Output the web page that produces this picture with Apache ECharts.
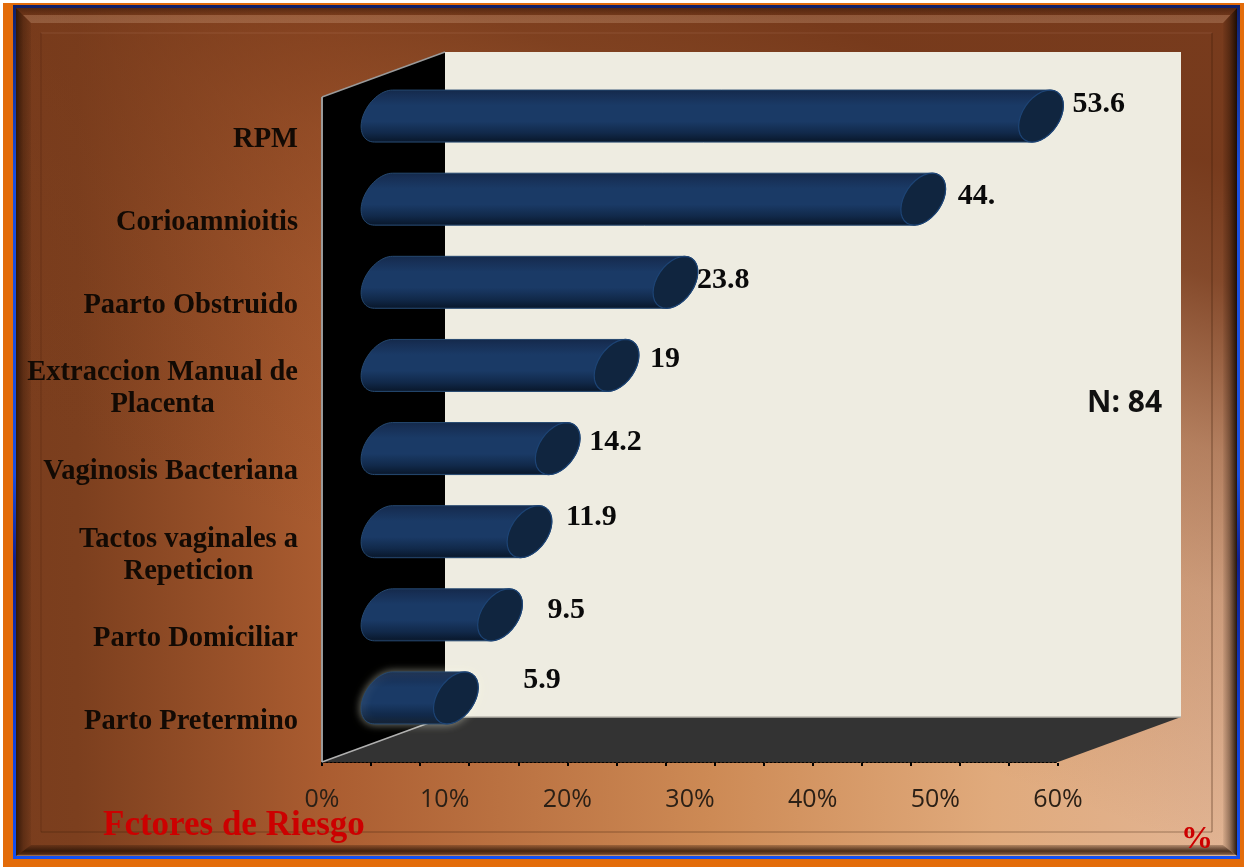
<!DOCTYPE html>
<html>
<head>
<meta charset="utf-8">
<style>
  html, body { margin: 0; padding: 0; background: #fff; }
  #chart-container { width: 1244px; height: 867px; }
</style>
<script src="https://cdn.jsdelivr.net/npm/echarts@6/dist/echarts.min.js"></script>
</head>
<body>
<div id="chart-container"></div>
<script>
// data
const categories = ['RPM', 'Corioamnioitis', 'Paarto Obstruido', 'Extraccion Manual de\nPlacenta',
  'Vaginosis Bacteriana', 'Tactos vaginales a\nRepeticion', 'Parto Domiciliar', 'Parto Pretermino'];
const values = [53.6, 44, 23.8, 19, 14.2, 11.9, 9.5, 5.9];
const valueLabels = ['53.6', '44.', '23.8', '19', '14.2', '11.9', '9.5', '5.9'];

// the value labels were dragged by hand in the original, offsets from the bar's value point
const labelDx = [93, 96, 83, 95, 93, 98, 109, 129];
const labelDy = [-34, -25, -25, -29, -29, -37, -27, -40];

// plot box and 3D depth
const gridLeft = 322, gridTop = 97, gridW = 736, gridH = 665;
const depthX = 123, depthY = -45;
const right = gridLeft + gridW, bottom = gridTop + gridH;

var dom = document.getElementById('chart-container');
var myChart = echarts.init(dom, null, { renderer: 'canvas' });

function grad(x1, y1, x2, y2, stops) {
  return new echarts.graphic.LinearGradient(x1, y1, x2, y2, stops.map(function (s) {
    return { offset: s[0], color: s[1] };
  }));
}
function vGrad(stops) { return grad(0, 0, 0, 1, stops); }
function hGrad(stops) { return grad(0, 0, 1, 0, stops); }
function rect(x, y, w, h, fill, z) {
  return { type: 'rect', silent: true, z: z, shape: { x: x, y: y, width: w, height: h }, style: { fill: fill } };
}
function poly(points, fill, z) {
  return { type: 'polygon', silent: true, z: z, shape: { points: points }, style: { fill: fill } };
}
function line(x1, y1, x2, y2, color, width, z) {
  return { type: 'line', silent: true, z: z, shape: { x1: x1, y1: y1, x2: x2, y2: y2 }, style: { stroke: color, lineWidth: width } };
}

// the skewed ellipse of the cylinder ends
function ellipsePts(cx, cy, from, to) {
  var pts = [];
  for (var k = 0; k <= 32; k++) {
    var t = from + (to - from) * k / 32;
    pts.push([cx + 20.5 * Math.cos(t) - 9 * Math.sin(t), cy + 26 * Math.sin(t)]);
  }
  return pts;
}

function renderCylinder(params, api) {
  var i = api.value(1);
  var val = api.value(0);
  var p0 = api.coord([0, i]);
  var p1 = api.coord([val, i]);
  var cx0 = p0[0] + depthX / 2, cx1 = p1[0] + depthX / 2, cy = p0[1] + depthY / 2;
  var body = ellipsePts(cx0, cy, Math.PI * 1.5, Math.PI * 0.5).concat(ellipsePts(cx1, cy, Math.PI * 0.5, -Math.PI * 0.5));
  var bodyStyle = {
    fill: vGrad([[0, '#14294a'], [0.1, '#172f55'], [0.3, '#1a3a66'], [0.6, '#1a3a66'], [0.82, '#11294a'], [0.96, '#0a1a30'], [1, '#16263e']]),
    stroke: '#25486f',
    lineWidth: 1
  };
  // only the shortest bar has a glow in the original
  if (i === values.length - 1) {
    bodyStyle.shadowBlur = 8;
    bodyStyle.shadowColor = 'rgba(255,255,230,0.5)';
  }
  return {
    type: 'group',
    children: [
      { type: 'polygon', shape: { points: body }, style: bodyStyle },
      {
        type: 'polygon',
        shape: { points: ellipsePts(cx1, cy, 0, Math.PI * 2) },
        style: { fill: '#10253f', stroke: '#1d4475', lineWidth: 1.2 }
      },
      {
        type: 'text',
        style: {
          text: valueLabels[i],
          x: p1[0] + labelDx[i],
          y: p1[1] + labelDy[i],
          verticalAlign: 'middle',
          font: 'bold 30px "Liberation Serif"',
          fill: '#0a0a0a'
        }
      }
    ]
  };
}

// frame, background and the walls of the 3D box
var frame = [
  rect(3, 3, 1241, 864, '#e36c0a', 0),
  rect(13, 5, 1227, 854, vGrad([[0, '#10206a'], [0.2, '#1a4fe0'], [0.55, '#1a4fe0'], [0.65, '#10208f'], [0.85, '#1040d8'], [1, '#1450f0']]), 0),
  rect(16, 8, 1221, 848, hGrad([[0, '#7a3d1d'], [0.05, '#7c3f1e'], [0.25, '#aa5c30'], [0.57, '#cd8a55'], [0.8, '#e0aa7c'], [1, '#e2b595']]), 0),
  rect(16, 8, 1221, 848, grad(0.625, 0, 0.375, 1, [[0, 'rgba(116,55,25,0.97)'], [0.12, 'rgba(116,55,25,0.85)'], [0.3, 'rgba(116,55,25,0.42)'], [0.45, 'rgba(116,55,25,0.2)'], [0.65, 'rgba(116,55,25,0.05)'], [0.72, 'rgba(116,55,25,0)'], [1, 'rgba(116,55,25,0)']]), 0),
  // bevel
  poly([[16, 8], [1237, 8], [1223, 23], [31, 23]], vGrad([[0, 'rgba(50,20,5,0.5)'], [0.45, 'rgba(50,20,5,0.15)'], [0.5, 'rgba(255,220,190,0.18)'], [1, 'rgba(255,220,190,0.2)']]), 0),
  poly([[16, 8], [31, 23], [31, 845], [16, 856]], hGrad([[0, 'rgba(30,12,0,0.75)'], [0.5, 'rgba(30,12,0,0.3)'], [1, 'rgba(30,12,0,0.08)']]), 0),
  poly([[1237, 8], [1223, 23], [1223, 845], [1237, 856]], hGrad([[0, 'rgba(30,12,0,0.05)'], [0.45, 'rgba(30,12,0,0.35)'], [1, 'rgba(20,8,0,0.9)']]), 0),
  poly([[16, 856], [31, 845], [1223, 845], [1237, 856]], vGrad([[0, 'rgba(40,18,5,0.25)'], [0.55, 'rgba(40,18,5,0.8)'], [0.85, 'rgba(60,30,10,0.6)'], [1, 'rgba(255,240,220,0.3)']]), 0),
  line(41, 33, 1212, 33, 'rgba(255,220,190,0.08)', 1.5, 0),
  line(41, 33, 41, 832, 'rgba(40,15,0,0.14)', 1.5, 0),
  line(41, 832, 1212, 832, 'rgba(60,30,10,0.28)', 1.5, 0),
  line(1212, 33, 1212, 832, 'rgba(60,30,10,0.35)', 1.5, 0),
  // back wall, side wall, floor
  rect(gridLeft + depthX, gridTop + depthY, gridW, gridH, '#eeece1', 1),
  poly([[gridLeft, gridTop], [gridLeft + depthX, gridTop + depthY], [gridLeft + depthX, bottom + depthY], [gridLeft, bottom]], '#000000', 1),
  poly([[gridLeft, bottom], [gridLeft + depthX, bottom + depthY], [right + depthX, bottom + depthY], [right, bottom]], '#333333', 1),
  line(gridLeft, gridTop, gridLeft + depthX, gridTop + depthY, '#9a9a9a', 1.5, 1),
  line(gridLeft, gridTop, gridLeft, bottom, '#9a9a9a', 2, 1),
  line(gridLeft, bottom, gridLeft + depthX, bottom + depthY, '#b0b0b0', 1.5, 1),
  line(gridLeft + depthX, bottom + depthY, right + depthX, bottom + depthY, '#b8b6ac', 1.5, 1),
  // loose text boxes
  {
    type: 'text', z: 5, silent: true, x: 1087, y: 403,
    style: { text: 'N: 84', font: 'bold 30px "Open Sans"', fill: '#111111', verticalAlign: 'middle' }
  },
  {
    type: 'text', z: 5, silent: true, x: 103, y: 826,
    style: { text: 'Fctores de Riesgo', font: 'bold 35px "Liberation Serif"', fill: '#cc0000', verticalAlign: 'middle' }
  },
  {
    type: 'text', z: 5, silent: true, x: 1181, y: 840,
    style: { text: '%', font: 'bold 32px "Liberation Serif"', fill: '#cc0000', verticalAlign: 'middle' }
  }
];

var option = {
  animation: false,
  graphic: { elements: frame },
  grid: { left: gridLeft, top: gridTop, width: gridW, height: gridH, containLabel: false },
  xAxis: [
    {
      type: 'value',
      min: 0,
      max: 60,
      interval: 10,
      splitLine: { show: false },
      axisTick: { show: false },
      axisLine: { show: true, onZero: false, lineStyle: { color: '#000', type: [2, 2], width: 2 } },
      axisLabel: {
        formatter: '{value}%',
        margin: 25,
        color: '#2b2016',
        fontFamily: 'Open Sans',
        fontSize: 25
      }
    },
    {
      // the small ticks do not line up with the labels in the original
      type: 'value',
      min: 0,
      max: 60,
      interval: 4,
      offset: 4,
      position: 'bottom',
      splitLine: { show: false },
      axisLine: { show: false },
      axisLabel: { show: false },
      axisTick: { show: true, inside: true, length: 13, lineStyle: { color: '#000', type: [3, 3], width: 2 } }
    }
  ],
  yAxis: {
    type: 'category',
    inverse: true,
    data: categories,
    axisLine: { show: false },
    axisTick: { show: false },
    axisLabel: {
      margin: 24,
      interval: 0,
      formatter: function (value) {
        return value.split('\n').map(function (s) { return '{c|' + s + '}'; }).join('\n');
      },
      rich: {
        c: {
          align: 'center',
          color: '#120a04',
          fontFamily: 'Liberation Serif',
          fontWeight: 'bold',
          fontSize: 28.5,
          lineHeight: 32,
          padding: [2, 0, 0, 0]
        }
      }
    }
  },
  series: [
    {
      type: 'custom',
      z: 3,
      clip: false,
      xAxisIndex: 0,
      yAxisIndex: 0,
      renderItem: renderCylinder,
      encode: { x: 0, y: 1 },
      data: values.map(function (v, i) { return [v, i]; })
    }
  ]
};

myChart.setOption(option);
window.addEventListener('resize', myChart.resize);
</script>
</body>
</html>
